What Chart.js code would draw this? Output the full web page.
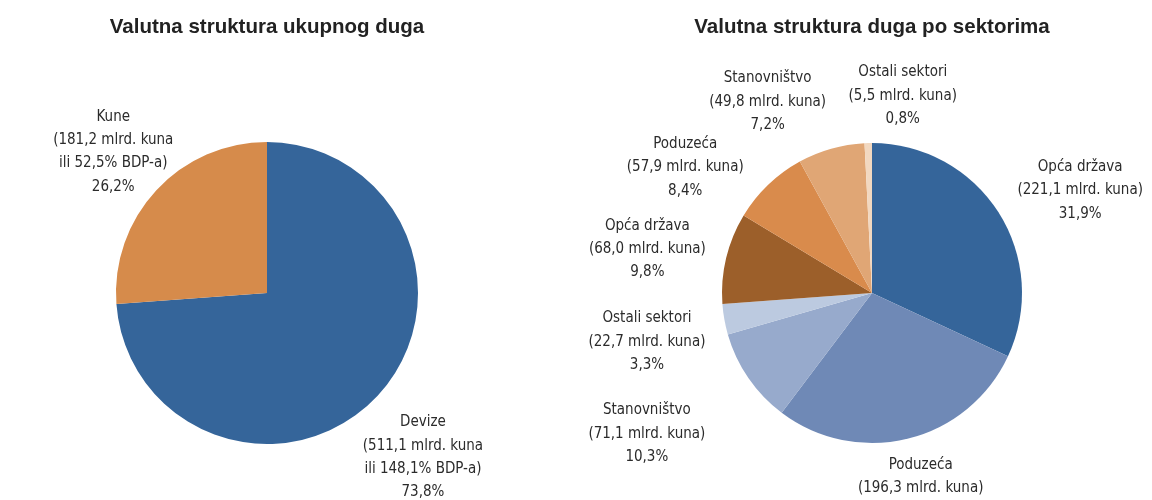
<!DOCTYPE html>
<html>
<head>
<meta charset="utf-8">
<script src="https://cdn.jsdelivr.net/npm/chart.js@4.4.1/dist/chart.umd.min.js"></script>
<style>
  body { margin: 0; background: #fff; }
  .wrap { display: flex; width: 1152px; height: 500px; }
  .box { position: relative; width: 576px; height: 500px; }
</style>
</head>
<body>
<div class="wrap">
  <div class="box"><canvas id="totalChart"></canvas></div>
  <div class="box"><canvas id="sectorChart"></canvas></div>
</div>
<script>
// data: ukupni dug po valuti
const totalTitle = 'Valutna struktura ukupnog duga';
const totalCategories = ['Devize', 'Kune'];
const totalValues = [511.1, 181.2];          // mlrd. kuna
const totalGdpShare = ['148,1', '52,5'];      // % BDP-a
const totalShares = ['73,8', '26,2'];         // %

// data: dug po sektorima (devize pa kune)
const sectorTitle = 'Valutna struktura duga po sektorima';
const sectorCategories = ['Opća država', 'Poduzeća', 'Stanovništvo', 'Ostali sektori',
                          'Opća država', 'Poduzeća', 'Stanovništvo', 'Ostali sektori'];
const sectorValues = [221.1, 196.3, 71.1, 22.7, 68.0, 57.9, 49.8, 5.5];
const sectorShares = ['31,9', '28,4', '10,3', '3,3', '9,8', '8,4', '7,2', '0,8'];

// styles
const totalColors = ['#35659a', '#d68b4b'];
const sectorColors = ['#35659a', '#6f89b6', '#97aacc', '#bccae0',
                      '#9c5f2a', '#d98b4c', '#e0a675', '#f2d8c0'];
// label distance from centre (x radius) and small angle nudge (degrees)
const totalLabelDist = [1.50, 1.383];
const totalLabelNudge = [3.6, -0.3];
const sectorLabelDist = [1.547, 1.34, 1.77, 1.535, 1.526, 1.50, 1.453, 1.33];
const sectorLabelNudge = [6.3, 0, 2.5, -2.1, -2.4, -12.3, -12.8, 10.3];

const fmt = v => v.toFixed(1).replace('.', ',');
const textFont = '15px "Liberation Sans Narrow", "DejaVu Sans Condensed", sans-serif';
const titleFont = 'bold 20.5px "Liberation Sans", sans-serif';

function totalLines(i) {
  return [totalCategories[i], '(' + fmt(totalValues[i]) + ' mlrd. kuna',
          'ili ' + totalGdpShare[i] + '% BDP-a)', totalShares[i] + '%'];
}
function sectorLines(i) {
  return [sectorCategories[i], '(' + fmt(sectorValues[i]) + ' mlrd. kuna)', sectorShares[i] + '%'];
}

// draws the title and the text next to each slice
function sliceLabels(title, linesFn, dist, nudge) {
  return {
    id: 'sliceLabels',
    afterDraw(chart) {
      const ctx = chart.ctx;
      const arcs = chart.getDatasetMeta(0).data;
      ctx.save();
      ctx.textAlign = 'center';
      ctx.textBaseline = 'middle';
      ctx.fillStyle = '#222';
      ctx.font = titleFont;
      ctx.fillText(title, arcs[0].x, 27);
      ctx.font = textFont;
      ctx.fillStyle = '#2b2b2b';
      arcs.forEach((arc, i) => {
        const mid = (arc.startAngle + arc.endAngle) / 2 + nudge[i] * Math.PI / 180;
        const d = arc.outerRadius * dist[i];
        const x = arc.x + Math.cos(mid) * d;
        const y = arc.y + Math.sin(mid) * d;
        const lines = linesFn(i);
        const lh = 23.3;
        lines.forEach((t, k) => {
          ctx.fillText(t, x, y + (k - (lines.length - 1) / 2) * lh);
        });
      });
      ctx.restore();
    }
  };
}

function pieOptions(pad) {
  return {
    responsive: true,
    maintainAspectRatio: false,
    animation: false,
    layout: { padding: pad },
    plugins: {
      legend: { display: false },
      tooltip: { enabled: false },
      title: { display: false }
    }
  };
}

new Chart(document.getElementById('totalChart').getContext('2d'), {
  type: 'pie',
  data: {
    labels: totalCategories,
    datasets: [{ data: totalValues, backgroundColor: totalColors, borderWidth: 0 }]
  },
  options: pieOptions({ top: 142, bottom: 56, left: 116, right: 158 }),
  plugins: [sliceLabels(totalTitle, totalLines, totalLabelDist, totalLabelNudge)]
});

new Chart(document.getElementById('sectorChart').getContext('2d'), {
  type: 'pie',
  data: {
    labels: sectorCategories,
    datasets: [{ data: sectorValues, backgroundColor: sectorColors, borderWidth: 0 }]
  },
  options: pieOptions({ top: 142, bottom: 56, left: 146, right: 130 }),
  plugins: [sliceLabels(sectorTitle, sectorLines, sectorLabelDist, sectorLabelNudge)]
});
</script>
</body>
</html>
